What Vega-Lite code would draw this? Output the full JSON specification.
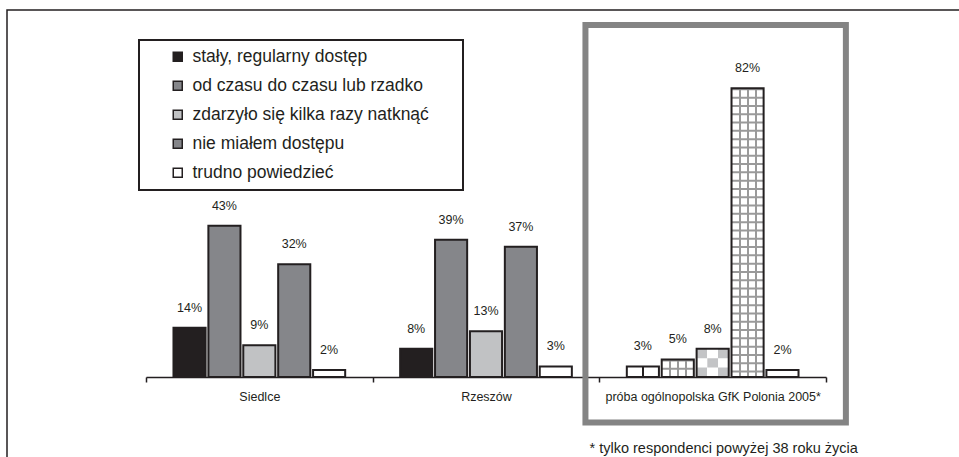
{
  "$schema": "https://vega.github.io/schema/vega-lite/v6.json",
  "width": 952,
  "height": 447,
  "autosize": {"type": "none"},
  "padding": {"left": 7, "top": 10, "right": 0, "bottom": 0},
  "background": "white",
  "config": {
    "view": {"stroke": "#231f20", "strokeWidth": 1.5, "strokeDash": [952, 1399, 447]},
    "font": "Liberation Sans",
    "text": {"font": "Liberation Sans"},
    "legend": {"strokeWidth": 2}
  },
  "data": {
    "values": [
      {"grupa": "Siedlce", "kategoria": "stały, regularny dostęp", "wartosc": 0.14},
      {"grupa": "Siedlce", "kategoria": "od czasu do czasu lub rzadko", "wartosc": 0.43},
      {"grupa": "Siedlce", "kategoria": "zdarzyło się kilka razy natknąć", "wartosc": 0.09},
      {"grupa": "Siedlce", "kategoria": "nie miałem dostępu", "wartosc": 0.32},
      {"grupa": "Siedlce", "kategoria": "trudno powiedzieć", "wartosc": 0.02},
      {"grupa": "Rzeszów", "kategoria": "stały, regularny dostęp", "wartosc": 0.08},
      {"grupa": "Rzeszów", "kategoria": "od czasu do czasu lub rzadko", "wartosc": 0.39},
      {"grupa": "Rzeszów", "kategoria": "zdarzyło się kilka razy natknąć", "wartosc": 0.13},
      {"grupa": "Rzeszów", "kategoria": "nie miałem dostępu", "wartosc": 0.37},
      {"grupa": "Rzeszów", "kategoria": "trudno powiedzieć", "wartosc": 0.03},
      {"grupa": "próba ogólnopolska GfK Polonia 2005*", "kategoria": "stały, regularny dostęp", "wartosc": 0.03},
      {"grupa": "próba ogólnopolska GfK Polonia 2005*", "kategoria": "od czasu do czasu lub rzadko", "wartosc": 0.05},
      {"grupa": "próba ogólnopolska GfK Polonia 2005*", "kategoria": "zdarzyło się kilka razy natknąć", "wartosc": 0.08},
      {"grupa": "próba ogólnopolska GfK Polonia 2005*", "kategoria": "nie miałem dostępu", "wartosc": 0.82},
      {"grupa": "próba ogólnopolska GfK Polonia 2005*", "kategoria": "trudno powiedzieć", "wartosc": 0.02}
    ]
  },
  "encoding": {
    "x": {
      "field": "grupa",
      "type": "nominal",
      "sort": ["Siedlce", "Rzeszów", "próba ogólnopolska GfK Polonia 2005*"],
      "scale": {"range": [139, 819], "paddingInner": 0, "paddingOuter": 0},
      "axis": {
        "title": null,
        "offset": -80,
        "domainColor": "#231f20",
        "domainWidth": 1.5,
        "tickColor": "#231f20",
        "tickWidth": 1.5,
        "tickSize": 5,
        "tickBand": "extent",
        "labelFontSize": 12.5,
        "labelColor": "#231f20",
        "labelFont": "Liberation Sans",
        "labelPadding": 8,
        "labelAngle": 0,
        "labelLimit": 400,
        "grid": false
      }
    }
  },
  "layer": [
    {
      "transform": [{"filter": "datum.grupa != 'próba ogólnopolska GfK Polonia 2005*'"}],
      "mark": {"type": "bar", "stroke": "#231f20", "strokeWidth": 2},
      "encoding": {
        "xOffset": {
          "field": "kategoria", "type": "nominal",
          "sort": ["stały, regularny dostęp", "od czasu do czasu lub rzadko", "zdarzyło się kilka razy natknąć", "nie miałem dostępu", "trudno powiedzieć"],
          "scale": {"paddingInner": 0.08, "paddingOuter": 0.7875}
        },
        "y": {"field": "wartosc", "type": "quantitative", "scale": {"domain": [0, 1], "range": [367, 15], "nice": false}, "axis": null},
        "fill": {
          "field": "kategoria", "type": "nominal",
          "scale": {
            "domain": ["stały, regularny dostęp", "od czasu do czasu lub rzadko", "zdarzyło się kilka razy natknąć", "nie miałem dostępu", "trudno powiedzieć"],
            "range": ["#231f20", "#85868a", "#c1c2c4", "#85868a", "#ffffff"]
          },
          "legend": {
            "orient": "none",
            "legendX": 132,
            "legendY": 30,
            "title": " ",
            "titleOrient": "left",
            "titlePadding": 22,
            "titleFontSize": 17.5,
            "strokeColor": "#231f20",
            "padding": 8,
            "symbolType": "square",
            "symbolSize": 81,
            "symbolStrokeColor": "#231f20",
            "symbolStrokeWidth": 1.5,
            "labelFont": "Liberation Sans",
            "labelFontSize": 17.5,
            "labelColor": "#231f20",
            "labelOffset": 6,
            "labelLimit": 500,
            "labelExpr": "datum.label + '\u2800\u2800'",
            "rowPadding": 10
          }
        }
      }
    },
    {
      "transform": [{"filter": "datum.grupa == 'próba ogólnopolska GfK Polonia 2005*'"}],
      "mark": {"type": "bar", "fill": "#ffffff", "strokeWidth": 0},
      "encoding": {
        "xOffset": {"field": "kategoria", "type": "nominal", "sort": ["stały, regularny dostęp", "od czasu do czasu lub rzadko", "zdarzyło się kilka razy natknąć", "nie miałem dostępu", "trudno powiedzieć"]},
        "y": {"field": "wartosc", "type": "quantitative"}
      }
    },
    {
      "transform": [{"filter": "datum.grupa == 'próba ogólnopolska GfK Polonia 2005*' && datum.kategoria == 'stały, regularny dostęp'"}],
      "mark": {
        "type": "bar", "strokeWidth": 0,
        "fill": {"gradient": "linear", "x1": 0, "y1": 0, "x2": 1, "y2": 0, "stops": [
          {"offset": 0, "color": "#ffffff"}, {"offset": 0.475, "color": "#ffffff"},
          {"offset": 0.475, "color": "#231f20"}, {"offset": 0.525, "color": "#231f20"},
          {"offset": 0.525, "color": "#ffffff"}, {"offset": 1, "color": "#ffffff"}
        ]}
      },
      "encoding": {
        "xOffset": {"field": "kategoria", "type": "nominal", "sort": ["stały, regularny dostęp", "od czasu do czasu lub rzadko", "zdarzyło się kilka razy natknąć", "nie miałem dostępu", "trudno powiedzieć"]},
        "y": {"field": "wartosc", "type": "quantitative"}
      }
    },
    {
      "transform": [{"filter": "datum.grupa == 'próba ogólnopolska GfK Polonia 2005*' && (datum.kategoria == 'od czasu do czasu lub rzadko' || datum.kategoria == 'nie miałem dostępu')"}],
      "mark": {
        "type": "bar", "strokeWidth": 0,
        "fill": {"gradient": "linear", "x1": 0, "y1": 0, "x2": 1, "y2": 0, "stops": [
          {"offset": 0, "color": "#ffffff"}, {"offset": 0.219, "color": "#ffffff"},
          {"offset": 0.219, "color": "#9a9a9a"}, {"offset": 0.281, "color": "#9a9a9a"},
          {"offset": 0.281, "color": "#ffffff"}, {"offset": 0.469, "color": "#ffffff"},
          {"offset": 0.469, "color": "#9a9a9a"}, {"offset": 0.531, "color": "#9a9a9a"},
          {"offset": 0.531, "color": "#ffffff"}, {"offset": 0.719, "color": "#ffffff"},
          {"offset": 0.719, "color": "#9a9a9a"}, {"offset": 0.781, "color": "#9a9a9a"},
          {"offset": 0.781, "color": "#ffffff"}, {"offset": 1, "color": "#ffffff"}
        ]}
      },
      "encoding": {
        "xOffset": {"field": "kategoria", "type": "nominal", "sort": ["stały, regularny dostęp", "od czasu do czasu lub rzadko", "zdarzyło się kilka razy natknąć", "nie miałem dostępu", "trudno powiedzieć"]},
        "y": {"field": "wartosc", "type": "quantitative"}
      }
    },
    {
      "transform": [{"filter": "datum.grupa == 'próba ogólnopolska GfK Polonia 2005*' && (datum.kategoria == 'od czasu do czasu lub rzadko' || datum.kategoria == 'nie miałem dostępu')"}],
      "mark": {"type": "rule", "color": "#9a9a9a", "strokeWidth": 32, "strokeDash": [2, 6.3]},
      "encoding": {
        "xOffset": {"field": "kategoria", "type": "nominal", "sort": ["stały, regularny dostęp", "od czasu do czasu lub rzadko", "zdarzyło się kilka razy natknąć", "nie miałem dostępu", "trudno powiedzieć"]},
        "y": {"field": "wartosc", "type": "quantitative"},
        "y2": {"datum": 0}
      }
    },
    {
      "transform": [{"filter": "datum.grupa == 'próba ogólnopolska GfK Polonia 2005*' && datum.kategoria == 'zdarzyło się kilka razy natknąć'"}],
      "mark": {
        "type": "bar", "strokeWidth": 0,
        "fill": {"gradient": "linear", "x1": 0, "y1": 0, "x2": 1, "y2": 0, "stops": [
          {"offset": 0, "color": "#c3c4c6"}, {"offset": 0.333, "color": "#c3c4c6"},
          {"offset": 0.333, "color": "#ffffff"}, {"offset": 0.667, "color": "#ffffff"},
          {"offset": 0.667, "color": "#c3c4c6"}, {"offset": 1, "color": "#c3c4c6"}
        ]}
      },
      "encoding": {
        "xOffset": {"field": "kategoria", "type": "nominal", "sort": ["stały, regularny dostęp", "od czasu do czasu lub rzadko", "zdarzyło się kilka razy natknąć", "nie miałem dostępu", "trudno powiedzieć"]},
        "y": {"field": "wartosc", "type": "quantitative"}
      }
    },
    {
      "transform": [{"filter": "datum.grupa == 'próba ogólnopolska GfK Polonia 2005*' && datum.kategoria == 'zdarzyło się kilka razy natknąć'"}],
      "mark": {"type": "rule", "color": "#ffffff", "strokeWidth": 32, "strokeDash": [0, 9.39, 9.39, 200]},
      "encoding": {
        "xOffset": {"field": "kategoria", "type": "nominal", "sort": ["stały, regularny dostęp", "od czasu do czasu lub rzadko", "zdarzyło się kilka razy natknąć", "nie miałem dostępu", "trudno powiedzieć"]},
        "y": {"field": "wartosc", "type": "quantitative"},
        "y2": {"datum": 0}
      }
    },
    {
      "transform": [{"filter": "datum.grupa == 'próba ogólnopolska GfK Polonia 2005*' && datum.kategoria == 'zdarzyło się kilka razy natknąć'"}],
      "mark": {"type": "rule", "color": "#c3c4c6", "strokeWidth": 10.7, "strokeDash": [0, 9.39, 9.39, 200]},
      "encoding": {
        "xOffset": {"field": "kategoria", "type": "nominal", "sort": ["stały, regularny dostęp", "od czasu do czasu lub rzadko", "zdarzyło się kilka razy natknąć", "nie miałem dostępu", "trudno powiedzieć"]},
        "y": {"field": "wartosc", "type": "quantitative"},
        "y2": {"datum": 0}
      }
    },
    {
      "transform": [{"filter": "datum.grupa == 'próba ogólnopolska GfK Polonia 2005*'"}],
      "mark": {"type": "bar", "fill": "transparent", "stroke": "#231f20", "strokeWidth": 2},
      "encoding": {
        "xOffset": {"field": "kategoria", "type": "nominal", "sort": ["stały, regularny dostęp", "od czasu do czasu lub rzadko", "zdarzyło się kilka razy natknąć", "nie miałem dostępu", "trudno powiedzieć"]},
        "y": {"field": "wartosc", "type": "quantitative"}
      }
    },
    {
      "mark": {"type": "text", "baseline": "middle", "dy": -20, "fontSize": 12.5, "color": "#231f20", "font": "Liberation Sans"},
      "encoding": {
        "xOffset": {"field": "kategoria", "type": "nominal", "sort": ["stały, regularny dostęp", "od czasu do czasu lub rzadko", "zdarzyło się kilka razy natknąć", "nie miałem dostępu", "trudno powiedzieć"]},
        "y": {"field": "wartosc", "type": "quantitative"},
        "text": {"field": "wartosc", "type": "quantitative", "format": ".0%"}
      }
    },
    {
      "data": {"values": [{"grupa": "próba ogólnopolska GfK Polonia 2005*"}]},
      "mark": {"type": "rect", "fill": "transparent", "stroke": "#848484", "strokeWidth": 6, "width": {"band": 1.149}, "xOffset": 3},
      "encoding": {
        "y": {"datum": 1},
        "y2": {"datum": -0.1293}
      }
    },
    {
      "data": {"values": [{"grupa": "próba ogólnopolska GfK Polonia 2005*", "tekst": "* tylko respondenci powyżej 38 roku życia"}]},
      "mark": {"type": "text", "baseline": "middle", "fontSize": 14.5, "color": "#231f20", "dx": 11, "font": "Liberation Sans"},
      "encoding": {
        "y": {"datum": -0.2045},
        "text": {"field": "tekst"}
      }
    }
  ]
}
